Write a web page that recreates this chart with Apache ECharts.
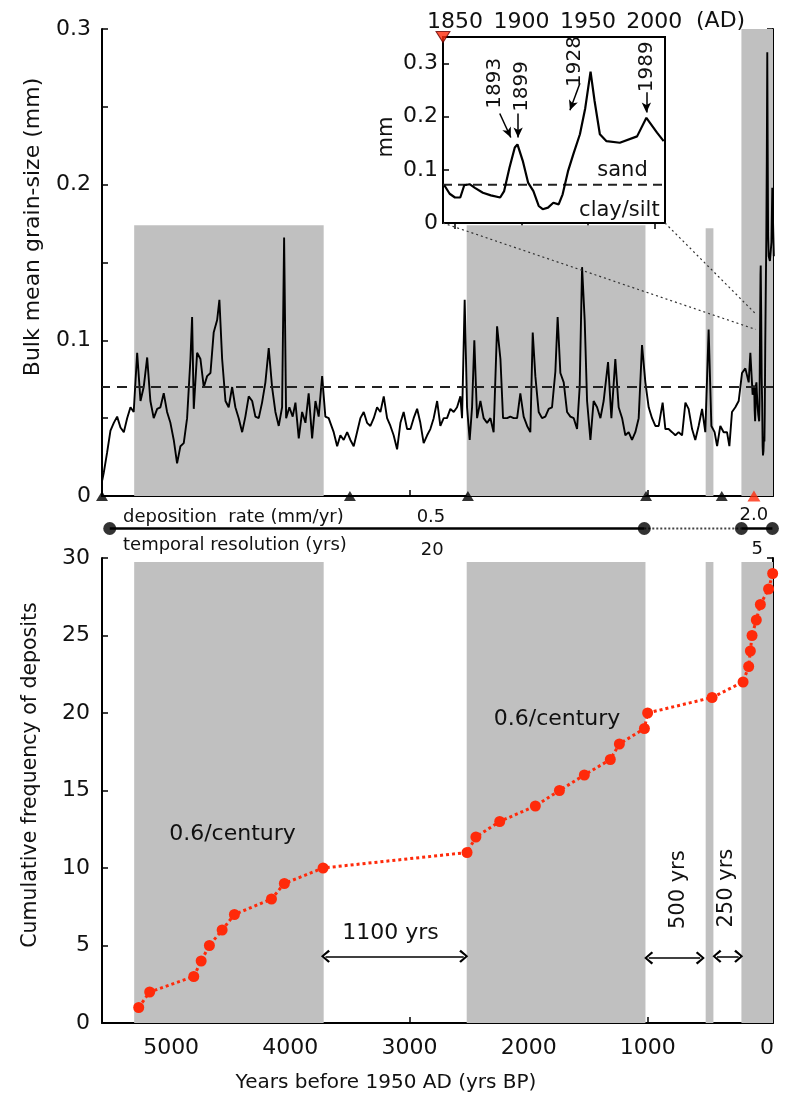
<!DOCTYPE html>
<html><head><meta charset="utf-8">
<script src="https://cdn.jsdelivr.net/npm/echarts@6/dist/echarts.min.js"></script>
<style>html,body{margin:0;padding:0;background:#fff}#c{width:785px;height:1100px}</style>
</head><body><div id="c"></div>
<script>
// ---------------- DATA ----------------
// Bulk mean grain-size record: [years BP, mm]
const grainRecord = [
[5578,0.010],[5565,0.015],[5537,0.028],[5509,0.042],[5481,0.047],[5453,0.051],[5425,0.044],[5397,0.041],[5369,0.050],[5341,0.057],
[5314,0.054],[5285,0.092],[5257,0.061],[5230,0.070],[5201,0.089],[5174,0.061],[5146,0.050],[5117,0.056],[5090,0.057],[5062,0.066],
[5034,0.054],[5006,0.047],[4978,0.036],[4950,0.021],[4922,0.032],[4894,0.034],[4866,0.050],[4838,0.088],[4824,0.115],[4810,0.056],
[4782,0.092],[4754,0.088],[4726,0.070],[4698,0.077],[4670,0.079],[4643,0.105],[4614,0.113],[4595,0.126],[4572,0.088],[4544,0.061],
[4517,0.057],[4488,0.070],[4461,0.057],[4433,0.050],[4404,0.041],[4377,0.051],[4349,0.064],[4320,0.061],[4293,0.051],[4265,0.050],
[4237,0.060],[4209,0.073],[4181,0.095],[4153,0.070],[4125,0.054],[4097,0.045],[4069,0.057],[4052,0.166],[4035,0.050],[4008,0.057],
[3980,0.051],[3957,0.060],[3929,0.037],[3901,0.054],[3873,0.047],[3846,0.066],[3817,0.037],[3789,0.061],[3762,0.051],[3733,0.077],
[3706,0.051],[3678,0.050],[3664,0.047],[3636,0.041],[3607,0.032],[3580,0.039],[3552,0.036],[3523,0.041],[3496,0.036],[3468,0.032],
[3440,0.041],[3412,0.050],[3384,0.054],[3356,0.047],[3328,0.045],[3300,0.050],[3272,0.057],[3244,0.054],[3216,0.064],[3188,0.050],
[3160,0.045],[3133,0.039],[3104,0.030],[3076,0.047],[3049,0.054],[3020,0.043],[2992,0.043],[2965,0.050],[2936,0.056],[2909,0.047],
[2881,0.034],[2852,0.039],[2825,0.043],[2797,0.050],[2768,0.061],[2741,0.045],[2713,0.050],[2685,0.050],[2657,0.056],[2629,0.054],
[2601,0.057],[2573,0.064],[2559,0.050],[2537,0.126],[2517,0.057],[2495,0.036],[2475,0.057],[2456,0.100],[2433,0.050],[2405,0.061],
[2378,0.050],[2349,0.047],[2321,0.050],[2294,0.041],[2265,0.109],[2237,0.088],[2215,0.050],[2181,0.050],[2154,0.051],[2126,0.050],
[2097,0.050],[2070,0.066],[2042,0.051],[2013,0.045],[1986,0.041],[1966,0.105],[1944,0.077],[1916,0.054],[1888,0.050],[1860,0.051],
[1832,0.056],[1804,0.057],[1776,0.080],[1757,0.115],[1734,0.079],[1706,0.073],[1678,0.054],[1650,0.051],[1622,0.050],[1594,0.043],
[1572,0.070],[1552,0.147],[1530,0.113],[1510,0.061],[1482,0.036],[1455,0.061],[1426,0.057],[1398,0.050],[1371,0.061],[1334,0.086],
[1306,0.050],[1273,0.088],[1245,0.057],[1216,0.050],[1189,0.039],[1161,0.041],[1133,0.036],[1105,0.041],[1077,0.050],[1049,0.097],
[1021,0.073],[993,0.057],[965,0.050],[937,0.045],[909,0.045],[876,0.060],[853,0.043],[826,0.043],[797,0.041],[769,0.039],
[742,0.041],[713,0.039],[685,0.060],[658,0.056],[629,0.043],[602,0.036],[574,0.045],[545,0.056],[518,0.041],[490,0.107],
[467,0.045],[440,0.041],[419,0.032],[392,0.045],[364,0.041],[336,0.041],[316,0.032],[294,0.054],[266,0.057],[238,0.061],
[210,0.079],[182,0.082],[154,0.073],[140,0.092],[121,0.065]
];
// Inset record (AD years, mm) — also the youngest part of the main record
const insetRecord = [
[1842,0.071],[1846,0.055],[1850,0.048],[1854,0.048],[1857,0.071],[1861,0.073],[1865,0.066],[1871,0.057],[1877,0.052],[1884,0.048],
[1887,0.060],[1891,0.104],[1895,0.142],[1897,0.148],[1901,0.117],[1905,0.076],[1909,0.060],[1913,0.032],[1916,0.026],[1920,0.029],
[1924,0.038],[1928,0.035],[1931,0.054],[1935,0.097],[1939,0.129],[1944,0.167],[1948,0.216],[1952,0.285],[1955,0.230],[1959,0.167],
[1964,0.154],[1974,0.151],[1987,0.163],[1994,0.198],[2002,0.170],[2007,0.154]
];
const sandThreshold = 0.072;
const bandStartBP = [5310, 2520, 515, 215];
const bandEndBP   = [3720, 1020, 450, -50];
const topBandGrain = [0.174, 0.174, 0.172, 0.3];
const agePointsBP = [5580, 3500, 2510, 1015, 380];
const agePointRedBP = [110];
const depositBP = [5272,5180,4810,4748,4679,4572,4469,4158,4050,3725,2517,2443,2243,1944,1742,1533,1315,1239,1029,1002,461,201,154,140,126,90,56,-13,-47];
const depositCount = [1,2,3,4,5,6,7,8,9,10,11,12,13,14,15,16,17,18,19,20,21,22,23,24,25,26,27,28,29];
const depBreaksBP = [5515, 1030, 215, -45];
const depositionRate = ['0.5', '2.0'];
const temporalRes = ['20', '5'];
const bpTicks = [5000, 4000, 3000, 2000, 1000, 0];
const adTicks = [1850, 1900, 1950, 2000];
const insetDates = ['1893', '1899', '1928', '1989'];
const rateLabels = ['0.6/century', '0.6/century'];
const gapLabels = ['1100 yrs', '500 yrs', '250 yrs'];

// ---------------- CHART ----------------
const FONT = 'DejaVu Sans';
const INK = '#111';
const GRAY = '#c0c0c0';
const RED = '#ff2a0a';
const CHEV = 'path://M5,0L10,8.2L8.8,10L5,3.2L1.2,10L0,8.2Z';
const TICKFS = 22;

const chart = echarts.init(document.getElementById('c'));
const mainData = grainRecord.concat(insetRecord.map(p => [1950 - p[0], p[1]]));

function bpAxis(gi, showLabels) {
  return {
    type: 'value', gridIndex: gi, min: -50, max: 5580, inverse: true,
    axisLine: {show: true, onZero: false, lineStyle: {color: '#000', width: 2}},
    axisTick: {show: true, inside: true, length: 6, customValues: bpTicks, lineStyle: {color: '#000', width: 1.5}},
    axisLabel: {show: showLabels, customValues: bpTicks, fontSize: TICKFS, color: INK, margin: 14, fontFamily: FONT, formatter: v => String(v)},
    splitLine: {show: false}
  };
}
function valAxis(gi, pos, min, max, interval, labels, fmt, margin) {
  return {
    type: 'value', gridIndex: gi, position: pos, min: min, max: max, interval: interval,
    axisLine: {show: true, onZero: false, lineStyle: {color: '#000', width: 2}},
    axisTick: {show: true, inside: true, length: 6, lineStyle: {color: '#000', width: 1.5}},
    axisLabel: {show: labels, fontSize: TICKFS, color: INK, margin: margin, fontFamily: FONT, formatter: fmt || (v => String(v))},
    splitLine: {show: false}
  };
}

const insetArrows = [
  [{coord: [1883.7, 0.206]}, {coord: [1892, 0.161]}],
  [{coord: [1897.5, 0.206]}, {coord: [1897.5, 0.161]}],
  [{coord: [1944, 0.263]}, {coord: [1936.5, 0.212]}],
  [{coord: [1994, 0.246]}, {coord: [1994, 0.208]}]
];
const bottomArrows = [
  [{coord: [3705, 4.3]}, {coord: [2545, 4.3]}],
  [{coord: [993, 4.2]}, {coord: [560, 4.2]}],
  [{coord: [420, 4.3]}, {coord: [238, 4.3]}]
];

const option = {
  animation: false,
  backgroundColor: '#fff',
  textStyle: {fontFamily: FONT},
  grid: [
    {left: 102, top: 29, width: 671, height: 467},
    {left: 443, top: 37, width: 222, height: 186, show: true, backgroundColor: '#fff', borderColor: '#000', borderWidth: 2},
    {left: 102, top: 520, width: 671, height: 17},
    {left: 102, top: 558, width: 671, height: 465}
  ],
  xAxis: [
    bpAxis(0, false),
    {
      type: 'value', gridIndex: 1, position: 'top', min: 1841, max: 2008,
      axisLine: {show: true, lineStyle: {color: '#000', width: 2}},
      axisTick: {show: true, inside: true, length: 6, customValues: adTicks, lineStyle: {color: '#000', width: 1.5}},
      axisLabel: {customValues: adTicks, fontSize: TICKFS, color: INK, margin: 4, fontFamily: FONT, formatter: v => String(v)},
      splitLine: {show: false}
    },
    {type: 'value', gridIndex: 2, min: -50, max: 5580, inverse: true, show: false},
    bpAxis(3, true)
  ],
  yAxis: [
    valAxis(0, 'left', 0, 0.3, 0.05, true, v => { const t = Math.round(v * 100); return t % 10 === 0 ? String(t / 100) : ''; }, 11),
    valAxis(0, 'right', 0, 0.3, 0.05, false, null, 8),
    valAxis(1, 'left', 0, 0.35, 0.1, true, v => v > 0.31 ? '' : String(Math.round(v * 10) / 10), 5),
    {type: 'value', gridIndex: 2, min: 0, max: 1, show: false},
    valAxis(3, 'left', 0, 30, 5, true, null, 12),
    valAxis(3, 'right', 0, 30, 5, false, null, 8)
  ],
  series: [
    { // 0 top bands + sand threshold
      type: 'line', xAxisIndex: 0, yAxisIndex: 0, data: [], z: 1, silent: true,
      markArea: {silent: true, itemStyle: {color: GRAY}, data: bandStartBP.map((s, i) => [{xAxis: s, yAxis: 0}, {xAxis: bandEndBP[i], yAxis: topBandGrain[i]}])},
      markLine: {silent: true, symbol: ['none', 'none'], label: {show: false}, lineStyle: {color: '#222', width: 2, type: [10, 7]}, data: [{yAxis: sandThreshold}]}
    },
    { // 1 main grain-size record
      type: 'line', xAxisIndex: 0, yAxisIndex: 0, data: mainData, symbol: 'none', lineStyle: {color: '#000', width: 1.9}, z: 3
    },
    { // 2 age control points
      type: 'scatter', xAxisIndex: 0, yAxisIndex: 0, data: agePointsBP.map(b => [b, 0]), symbol: 'triangle', symbolSize: [12, 10], itemStyle: {color: '#000'}, clip: false, z: 6
    },
    { // 3 red age point
      type: 'scatter', xAxisIndex: 0, yAxisIndex: 0, data: agePointRedBP.map(b => [b, 0]), symbol: 'triangle', symbolSize: [13, 11], itemStyle: {color: RED}, clip: false, z: 7
    },
    { // 4 inset line
      type: 'line', xAxisIndex: 1, yAxisIndex: 2, data: insetRecord, symbol: 'none', lineStyle: {color: '#000', width: 2.2}, z: 6,
      markLine: {silent: true, symbol: ['none', 'arrow'], symbolSize: [7, 10], label: {show: false}, lineStyle: {color: '#000', width: 1.5, type: 'solid'}, data: insetArrows}
    },
    { // 5 inset threshold
      type: 'line', xAxisIndex: 1, yAxisIndex: 2, data: [[1841, sandThreshold], [2008, sandThreshold]], symbol: 'none', lineStyle: {type: [9, 6], width: 2, color: '#222'}, z: 5, silent: true
    },
    { // 6 inset red marker
      type: 'scatter', xAxisIndex: 1, yAxisIndex: 2, data: [[1841, 0.35]], symbol: 'triangle', symbolRotate: 180, symbolSize: [14, 11], itemStyle: {color: RED, borderColor: '#600', borderWidth: 1}, clip: false, z: 8
    },
    { // 7 deposition rate solid (old)
      type: 'line', xAxisIndex: 2, yAxisIndex: 3, data: [[depBreaksBP[0], 0.5], [depBreaksBP[1], 0.5]], symbol: 'none', lineStyle: {color: '#000', width: 2.5}
    },
    { // 8 dotted
      type: 'line', xAxisIndex: 2, yAxisIndex: 3, data: [[depBreaksBP[1], 0.5], [depBreaksBP[2], 0.5]], symbol: 'none', lineStyle: {color: '#444', width: 2, type: [2, 2]}
    },
    { // 9 solid (young)
      type: 'line', xAxisIndex: 2, yAxisIndex: 3, data: [[depBreaksBP[2], 0.5], [depBreaksBP[3], 0.5]], symbol: 'none', lineStyle: {color: '#000', width: 2.5}
    },
    { // 10 break dots
      type: 'scatter', xAxisIndex: 2, yAxisIndex: 3, data: depBreaksBP.map(b => [b, 0.5]), symbolSize: 13, itemStyle: {color: '#000'}, clip: false, z: 5
    },
    { // 11 bottom bands
      type: 'line', xAxisIndex: 3, yAxisIndex: 4, data: [], z: 1, silent: true,
      markArea: {silent: true, itemStyle: {color: GRAY}, data: bandStartBP.map((s, i) => [{xAxis: s, yAxis: 0}, {xAxis: bandEndBP[i], yAxis: 29.75}])}
    },
    { // 12 cumulative deposits
      type: 'line', xAxisIndex: 3, yAxisIndex: 4, data: depositBP.map((b, i) => [b, depositCount[i]]),
      symbol: 'circle', symbolSize: 11, showSymbol: true, itemStyle: {color: RED}, lineStyle: {color: RED, width: 3, type: [3, 3]}, z: 4, clip: false,
      markLine: {silent: true, symbol: [CHEV, CHEV], symbolSize: [13, 9], label: {show: false}, lineStyle: {color: '#000', width: 1.5, type: 'solid'}, itemStyle: {color: '#000'}, data: bottomArrows}
    }
  ]
};
chart.setOption(option);

// ---------------- TEXT / ANNOTATIONS ----------------
const P = (si, pt) => chart.convertToPixel({seriesIndex: si}, pt);
function txt(x, y, text, size, align, rot) {
  return {
    type: 'text', x: x, y: y, rotation: rot || 0, z: 20, silent: true,
    style: {text: text, fontSize: size, fontFamily: FONT, fill: INK, align: align || 'center', verticalAlign: 'middle'}
  };
}
const g = [];
// axis titles
g.push(txt(33, 227, 'Bulk mean grain-size (mm)', 22, 'center', Math.PI / 2));
g.push(txt(31, 775, 'Cumulative frequency of deposits', 20.5, 'center', Math.PI / 2));
g.push(txt(386, 1083, 'Years before 1950 AD (yrs BP)', 20, 'center'));
// inset texts
g.push(txt(387, 137, 'mm', 21, 'center', Math.PI / 2));
const insR = P(4, [2008, 0.35]);
g.push(txt(insR[0] + 31, 21, '(AD)', 22, 'left'));
const dateAnchors = [[1880, 0.263], [1900, 0.257], [1940, 0.304], [1994, 0.294]];
insetDates.forEach((d, i) => { const p = P(4, dateAnchors[i]); g.push(txt(p[0], p[1], d, 20, 'center', Math.PI / 2)); });
let p = P(4, [1995, 0.099]); g.push(txt(p[0], p[1], 'sand', 21, 'right'));
p = P(4, [2004, 0.024]); g.push(txt(p[0], p[1], 'clay/silt', 21, 'right'));
// zoom connector lines
const a1 = P(4, [1841, 0]), b1 = P(1, [95, 0.107]);
const a2 = P(4, [2008, 0]), b2 = P(1, [95, 0.117]);
[[a1, b1], [a2, b2]].forEach(s => g.push({type: 'line', z: 4, silent: true, shape: {x1: s[0][0], y1: s[0][1], x2: s[1][0], y2: s[1][1]}, style: {stroke: '#333', lineWidth: 1.2, lineDash: [2, 3]}}));
// deposition-rate strip texts
g.push(txt(123, 517, 'deposition  rate (mm/yr)', 18, 'left'));
g.push(txt(123, 545, 'temporal resolution (yrs)', 18, 'left'));
p = P(7, [2820, 0.5]); g.push(txt(p[0], 517, depositionRate[0], 18, 'center'));
p = P(7, [2810, 0.5]); g.push(txt(p[0], 550, temporalRes[0], 18, 'center'));
p = P(7, [110, 0.5]); g.push(txt(p[0], 515, depositionRate[1], 18, 'center'));
p = P(7, [82, 0.5]); g.push(txt(p[0], 549, temporalRes[1], 18, 'center'));
// bottom annotations
p = P(12, [4485, 12.2]); g.push(txt(p[0], p[1], rateLabels[0], 22, 'center'));
p = P(12, [1762, 19.6]); g.push(txt(p[0], p[1], rateLabels[1], 22, 'center'));
p = P(12, [3160, 5.8]); g.push(txt(p[0], p[1], gapLabels[0], 22, 'center'));
p = P(12, [742, 8.6]); g.push(txt(p[0], p[1], gapLabels[1], 21, 'center', Math.PI / 2));
p = P(12, [341, 8.7]); g.push(txt(p[0], p[1], gapLabels[2], 21, 'center', Math.PI / 2));
chart.setOption({graphic: g});
</script>
</body></html>
